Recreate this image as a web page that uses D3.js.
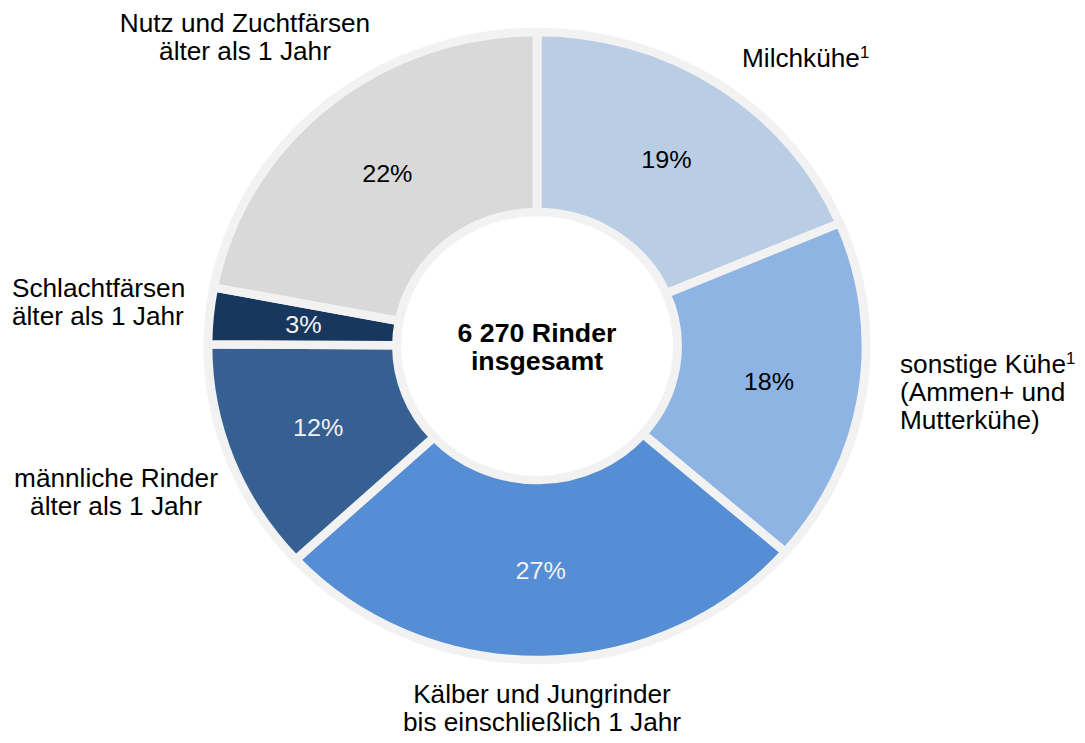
<!DOCTYPE html>
<html>
<head>
	<meta charset="utf-8">
	<title>Rinderbestand</title>
	<script src="https://d3js.org/d3.v7.min.js"></script>
	<style>
		body { margin: 0; background: #fff; }
		text { font-family: "Liberation Sans", Arial, sans-serif; }
	</style>
</head>
<body>
	<div class="chart"></div>

	<script type="text/javascript">
		// Daten (Tsd. Tiere), im Uhrzeigersinn ab 12 Uhr
		const categories = ['Milchkühe', 'sonstige Kühe', 'Kälber und Jungrinder', 'männliche Rinder', 'Schlachtfärsen', 'Nutz und Zuchtfärsen']
		const values = [1166, 1116, 1674, 752, 182, 1380]
		// Beschriftung, "^" = Fußnotenzeichen hochgestellt
		const labelLines = [
			['Milchkühe^1'],
			['sonstige Kühe^1', '(Ammen+ und', 'Mutterkühe)'],
			['Kälber und Jungrinder', 'bis einschließlich 1 Jahr'],
			['männliche Rinder', 'älter als 1 Jahr'],
			['Schlachtfärsen', 'älter als 1 Jahr'],
			['Nutz und Zuchtfärsen', 'älter als 1 Jahr']
		]
		const centerLines = ['6 270 Rinder', 'insgesamt']

		const colors = ['#b9cde5', '#8eb4e3', '#558ed5', '#376092', '#17375e', '#d9d9d9']
		const pctColors = ['#000', '#000', '#f2f2f2', '#f2f2f2', '#f2f2f2', '#000']
		// Position der äußeren Beschriftung (Bildschirmkoordinaten)
		const labelPos = [
			{ x: 742, y: 67, anchor: 'start' },
			{ x: 900, y: 373, anchor: 'start' },
			{ x: 542, y: 703, anchor: 'middle' },
			{ x: 116, y: 487, anchor: 'middle' },
			{ x: 12, y: 297, anchor: 'start' },
			{ x: 245, y: 32, anchor: 'middle' }
		]

		const width = 1085
		const height = 743
		const sx = 1.048 // Vorlage ist leicht horizontal gestreckt
		const cx = 537 / sx
		const cy = 346
		const outerR = 314
		const innerR = 134

		const svg = d3.select('.chart').append('svg')
			.attr('width', width)
			.attr('height', height)

		const root = svg.append('g').attr('transform', `scale(${sx},1)`)

		const total = d3.sum(values)
		const pie = d3.pie().sort(null).value(d => d)
		const arcs = pie(values)
		const arc = d3.arc().innerRadius(innerR).outerRadius(outerR)

		const donut = root.append('g').attr('transform', `translate(${cx},${cy})`)

		donut.selectAll('path')
			.data(arcs)
			.join('path')
			.attr('d', arc)
			.attr('fill', (d, i) => colors[i])
			.attr('stroke', '#f2f2f2')
			.attr('stroke-width', 8.5)
			.attr('stroke-linejoin', 'miter')

		// Prozentwerte
		donut.selectAll('text.pct')
			.data(arcs)
			.join('text')
			.attr('class', 'pct')
			.attr('transform', d => `translate(${arc.centroid(d)})`)
			.attr('text-anchor', 'middle')
			.attr('dy', '0.36em')
			.attr('font-size', 24)
			.attr('fill', (d, i) => pctColors[i])
			.text(d => Math.round(d.value / total * 100) + '%')

		// Mitte
		donut.append('text')
			.attr('text-anchor', 'middle')
			.attr('font-size', 25.5)
			.attr('font-weight', 'bold')
			.selectAll('tspan')
			.data(centerLines)
			.join('tspan')
			.attr('x', 0)
			.attr('y', (d, i) => -4 + i * 28)
			.text(d => d)

		// äußere Beschriftung
		const lineH = 28
		labelLines.forEach((lines, i) => {
			const p = labelPos[i]
			const t = root.append('text')
				.attr('font-size', 25)
				.attr('fill', '#000')
				.attr('text-anchor', p.anchor)
			lines.forEach((line, j) => {
				const [main, sup] = line.split('^')
				t.append('tspan')
					.attr('x', p.x / sx)
					.attr('y', p.y + j * lineH)
					.text(main)
				if (sup) {
					t.append('tspan')
						.attr('font-size', 16)
						.attr('dy', -9)
						.text(sup)
				}
			})
		})
	</script>
</body>
</html>
